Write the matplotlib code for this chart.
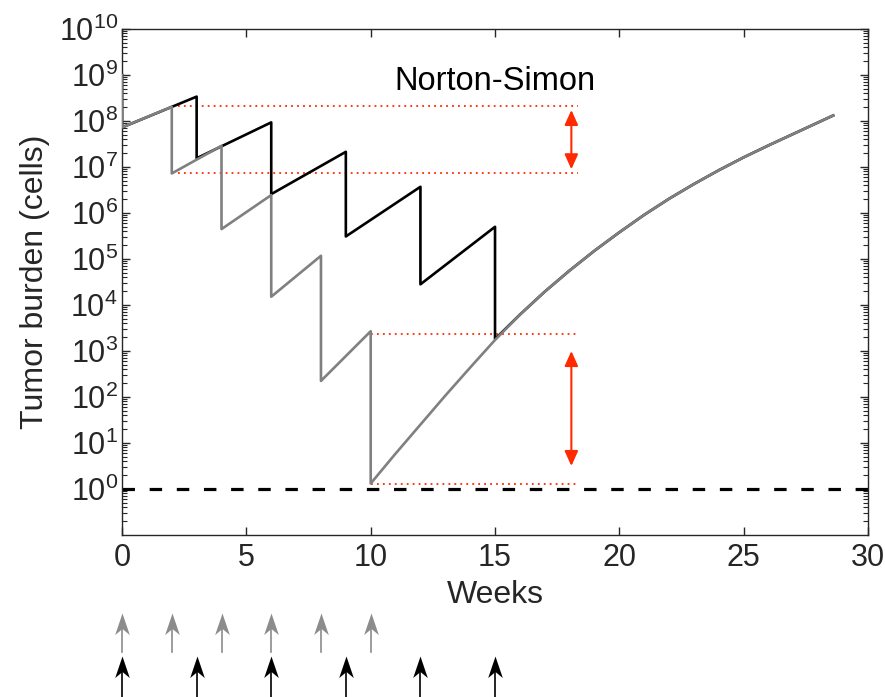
import numpy as np
import matplotlib
matplotlib.use('Agg')
import matplotlib.pyplot as plt
from matplotlib.ticker import LogLocator, LogFormatterMathtext, NullFormatter
from matplotlib.transforms import blended_transform_factory
from matplotlib.path import Path

plt.rcParams['font.family'] = ['Liberation Sans', 'DejaVu Sans']
plt.rcParams['mathtext.default'] = 'regular'

# log10 tumor burden
# regrowth after the last dose (shared by both schedules after week 15)
tail_t = [16, 17, 18, 19, 20, 21, 22, 23, 24, 25, 26, 27, 28, 28.6]
tail_log = [3.79, 4.29, 4.75, 5.18, 5.58, 5.96, 6.31, 6.63, 6.93, 7.21, 7.47, 7.72, 7.97, 8.12]

# gray: dose every 2 weeks
gray_t = [0, 0, 2, 2, 4, 4, 6, 6, 8, 8, 10, 10, 11, 12, 13, 14, 15] + tail_t
gray_log = [9.0, 7.86, 8.31, 6.86, 7.46, 5.65, 6.39, 4.18, 5.07, 2.35, 3.43, 0.12,
            0.77, 1.40, 2.03, 2.64, 3.24] + tail_log
# black: dose every 3 weeks
black_t = [0, 0, 3, 3, 6, 6, 9, 9, 12, 12, 15, 15] + tail_t
black_log = [9.0, 7.86, 8.53, 7.19, 7.97, 6.41, 7.33, 5.49, 6.57, 4.45, 5.70, 3.26] + tail_log

gray_doses = [0, 2, 4, 6, 8, 10]
black_doses = [0, 3, 6, 9, 12, 15]

# red reference lines (log10 level, start week)
ref_levels = [8.33, 6.88, 3.38, 0.11]
ref_start = [2, 2, 10, 10]
ref_end = 18.35
arrow_x = 18.07
arrow_spans = [(8.24, 6.95), (3.0, 0.5)]

gray_c = '#808080'
red_c = '#ff2a00'
axc = '#262626'

fig = plt.figure(figsize=(8.85, 6.97), dpi=100)
ax = fig.add_axes([0.1379, 0.2324, 0.8429, 0.7260])

ax.plot(black_t, 10.0 ** np.array(black_log), color='black', lw=1.9, zorder=3)
ax.plot(gray_t, 10.0 ** np.array(gray_log), color=gray_c, lw=1.9, zorder=4)

ax.plot([0, 30], [1, 1], color='black', lw=2.3, dashes=(3.9, 4.6), zorder=2)

for lv, st in zip(ref_levels, ref_start):
    ax.plot([st, ref_end], [10 ** lv, 10 ** lv], color=red_c, lw=1.3,
            linestyle=(0, (1, 2.3)), zorder=2)

for top, bot in arrow_spans:
    ax.annotate('', xy=(arrow_x, 10 ** bot), xytext=(arrow_x, 10 ** top),
                arrowprops=dict(arrowstyle='<|-|>,head_length=0.6,head_width=0.27',
                                color=red_c, lw=1.5, shrinkA=0, shrinkB=0,
                                mutation_scale=15))

ax.text(15.0, 10 ** 8.85, 'Norton-Simon', ha='center', va='center', fontsize=23.5, color='black')

# dosing arrows under the axis (notched heads, like the original)
head = Path([(0, 0), (-0.34, -1.0), (0, -0.72), (0.34, -1.0), (0, 0)],
            [Path.MOVETO, Path.LINETO, Path.LINETO, Path.LINETO, Path.CLOSEPOLY])
trans = blended_transform_factory(ax.transData, fig.transFigure)
rows = [(gray_doses, '#8c8c8c', 0.121, 0.064), (black_doses, 'black', 0.059, 0.0)]
for doses, col, tip, tail in rows:
    for d in doses:
        ax.plot([d, d], [tail, tip - 0.02], color=col, lw=1.2, transform=trans, clip_on=False)
        ax.plot([d], [tip], marker=head, markersize=31, color=col, markeredgewidth=0,
                transform=trans, clip_on=False)

ax.set_yscale('log')
ax.set_xlim(0, 30)
ax.set_ylim(1e-1, 1e10)
ax.set_xticks([0, 5, 10, 15, 20, 25, 30])
ax.set_yticks(10.0 ** np.arange(0, 11))
ax.yaxis.set_major_formatter(LogFormatterMathtext())
ax.yaxis.set_minor_locator(LogLocator(base=10, subs=np.arange(2, 10), numticks=30))
ax.yaxis.set_minor_formatter(NullFormatter())

ax.tick_params(which='both', direction='in', top=True, right=True, colors=axc,
               labelcolor=axc, labelsize=22)
ax.tick_params(which='major', length=5.8, width=1.0)
ax.tick_params(which='minor', length=3.6, width=0.8)
ax.tick_params(axis='x', pad=6)
ax.tick_params(axis='y', pad=3)
for s in ax.spines.values():
    s.set_color(axc)
    s.set_linewidth(1.0)

ax.set_xlabel('Weeks', fontsize=23, color=axc, labelpad=5)
ax.set_ylabel('Tumor burden (cells)', fontsize=23, color=axc, labelpad=6)

fig.savefig('out.png', dpi=100)
